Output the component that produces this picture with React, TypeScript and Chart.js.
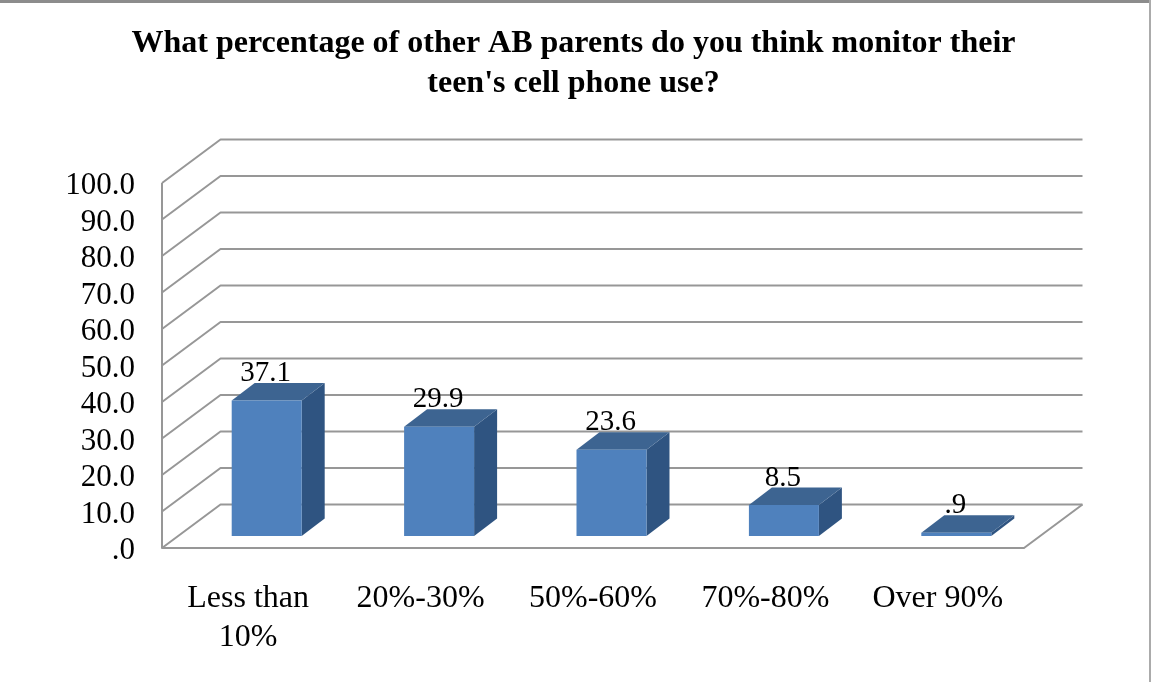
import React, { useEffect, useRef } from "react";
import { Chart, registerables } from "chart.js";

Chart.register(...registerables);

const titleLines = [
  "What percentage of other AB parents do you think monitor their",
  "teen's cell phone use?",
];
const categories: (string | string[])[] = [
  ["Less than", "10%"],
  "20%-30%",
  "50%-60%",
  "70%-80%",
  "Over 90%",
];
const values = [37.1, 29.9, 23.6, 8.5, 0.9];
const valueLabels = ["37.1", "29.9", "23.6", "8.5", ".9"];

const SERIF = '"Liberation Serif", "Times New Roman", serif';
const GRID = "#979797";
const DEPTH_X = 58.5;
const DEPTH_Y = -43.5;
const BAR_DX = 18.5;
const BAR_DY = -12;
const BAR_DEPTH_X = 23;
const BAR_DEPTH_Y = -17.5;
const Y_LABEL_SHIFT = 3;

const scene3d = {
  id: "scene3d",
  beforeDraw(chart: any) {
    const { ctx, width } = chart;
    ctx.save();
    ctx.fillStyle = "#ffffff";
    ctx.fillRect(0, 0, chart.width, chart.height);
    ctx.fillStyle = "#8c8c8c";
    ctx.fillRect(0, 0, width, 3);
    ctx.fillStyle = "#ababab";
    ctx.fillRect(1149, 0, 2, chart.height);
    ctx.restore();
  },
  beforeDatasetsDraw(chart: any) {
    const { ctx, scales, chartArea } = chart;
    const y = scales.y;
    const { left, right, top, bottom } = chartArea;
    ctx.save();
    ctx.strokeStyle = GRID;
    ctx.lineWidth = 2;
    ctx.lineJoin = "round";
    // walls: one line per tick of the value axis
    y.ticks.forEach((_: any, i: number) => {
      const py = y.getPixelForTick(i);
      ctx.beginPath();
      ctx.moveTo(left, py);
      ctx.lineTo(left + DEPTH_X, py + DEPTH_Y);
      ctx.lineTo(right + DEPTH_X, py + DEPTH_Y);
      ctx.stroke();
    });
    // axis and floor outline
    ctx.beginPath();
    ctx.moveTo(left, top);
    ctx.lineTo(left, bottom);
    ctx.lineTo(right, bottom);
    ctx.lineTo(right + DEPTH_X, bottom + DEPTH_Y);
    ctx.stroke();

    const bars = chart.getDatasetMeta(0).data;
    // value labels sit behind the bar tops
    ctx.fillStyle = "#000000";
    ctx.font = `29px ${SERIF}`;
    ctx.textAlign = "center";
    ctx.textBaseline = "middle";
    bars.forEach((b: any, i: number) => {
      ctx.fillText(valueLabels[i], b.x + BAR_DX - 1, b.y + BAR_DY - 27);
    });
    ctx.restore();

    // everything for the bars is shifted onto the middle of the floor
    ctx.save();
    ctx.translate(BAR_DX, BAR_DY);
    bars.forEach((b: any) => {
      const l = b.x - b.width / 2;
      const r = b.x + b.width / 2;
      ctx.fillStyle = "#2f5481";
      ctx.beginPath();
      ctx.moveTo(r, b.y);
      ctx.lineTo(r + BAR_DEPTH_X, b.y + BAR_DEPTH_Y);
      ctx.lineTo(r + BAR_DEPTH_X, b.base + BAR_DEPTH_Y);
      ctx.lineTo(r, b.base);
      ctx.closePath();
      ctx.fill();
      ctx.fillStyle = "#3d6491";
      ctx.beginPath();
      ctx.moveTo(l, b.y);
      ctx.lineTo(l + BAR_DEPTH_X, b.y + BAR_DEPTH_Y);
      ctx.lineTo(r + BAR_DEPTH_X, b.y + BAR_DEPTH_Y);
      ctx.lineTo(r, b.y);
      ctx.closePath();
      ctx.fill();
    });
  },
  afterDatasetsDraw(chart: any) {
    chart.ctx.restore();
  },
};

export default function App() {
  const ref = useRef<HTMLCanvasElement | null>(null);
  useEffect(() => {
    const chart = new Chart(ref.current as HTMLCanvasElement, {
      type: "bar",
      data: {
        labels: categories,
        datasets: [
          {
            data: values,
            backgroundColor: "#4f81bd",
            borderWidth: 0,
            barPercentage: 0.406,
            categoryPercentage: 1,
            clip: false,
          } as any,
        ],
      },
      plugins: [scene3d],
      options: {
        animation: false,
        responsive: false,
        layout: { padding: { left: 0, right: 4, top: 0, bottom: 0 } },
        plugins: {
          legend: { display: false },
          tooltip: { enabled: false },
          title: {
            display: true,
            text: titleLines,
            color: "#000000",
            font: { family: SERIF, size: 32, weight: "bold", lineHeight: "40px" },
            padding: { top: 24, bottom: 79 },
          },
        },
        scales: {
          x: {
            grid: { display: false },
            border: { display: false },
            ticks: {
              color: "#000000",
              font: { family: SERIF, size: 32, lineHeight: "39px" },
              padding: 23,
              maxRotation: 0,
              minRotation: 0,
              autoSkip: false,
            },
            afterFit(s: any) {
              s.height = 134;
            },
          },
          y: {
            min: 0,
            max: 100,
            grid: { display: false },
            border: { display: false },
            ticks: {
              stepSize: 10,
              autoSkip: false,
              color: "#000000",
              font: { family: SERIF, size: 31 },
              padding: 19,
              callback: (v: any) => (v === 0 ? ".0" : Number(v).toFixed(1)),
            },
            afterFit(s: any) {
              s.width = 162;
              const base = Object.getPrototypeOf(s).drawLabels;
              s.drawLabels = function (area: any) {
                this.ctx.save();
                this.ctx.translate(0, Y_LABEL_SHIFT);
                base.call(this, area);
                this.ctx.restore();
              };
            },
          },
          spacer: {
            type: "linear",
            position: "right",
            grid: { display: false },
            border: { display: false },
            ticks: { display: false },
            afterFit(s: any) {
              s.width = 123;
            },
          },
        },
      } as any,
    });
    return () => chart.destroy();
  }, []);
  return (
    <div style={{ position: "absolute", left: 0, top: 0, width: 1151, height: 682 }}>
      <canvas ref={ref} width={1151} height={682} style={{ display: "block" }} />
    </div>
  );
}
